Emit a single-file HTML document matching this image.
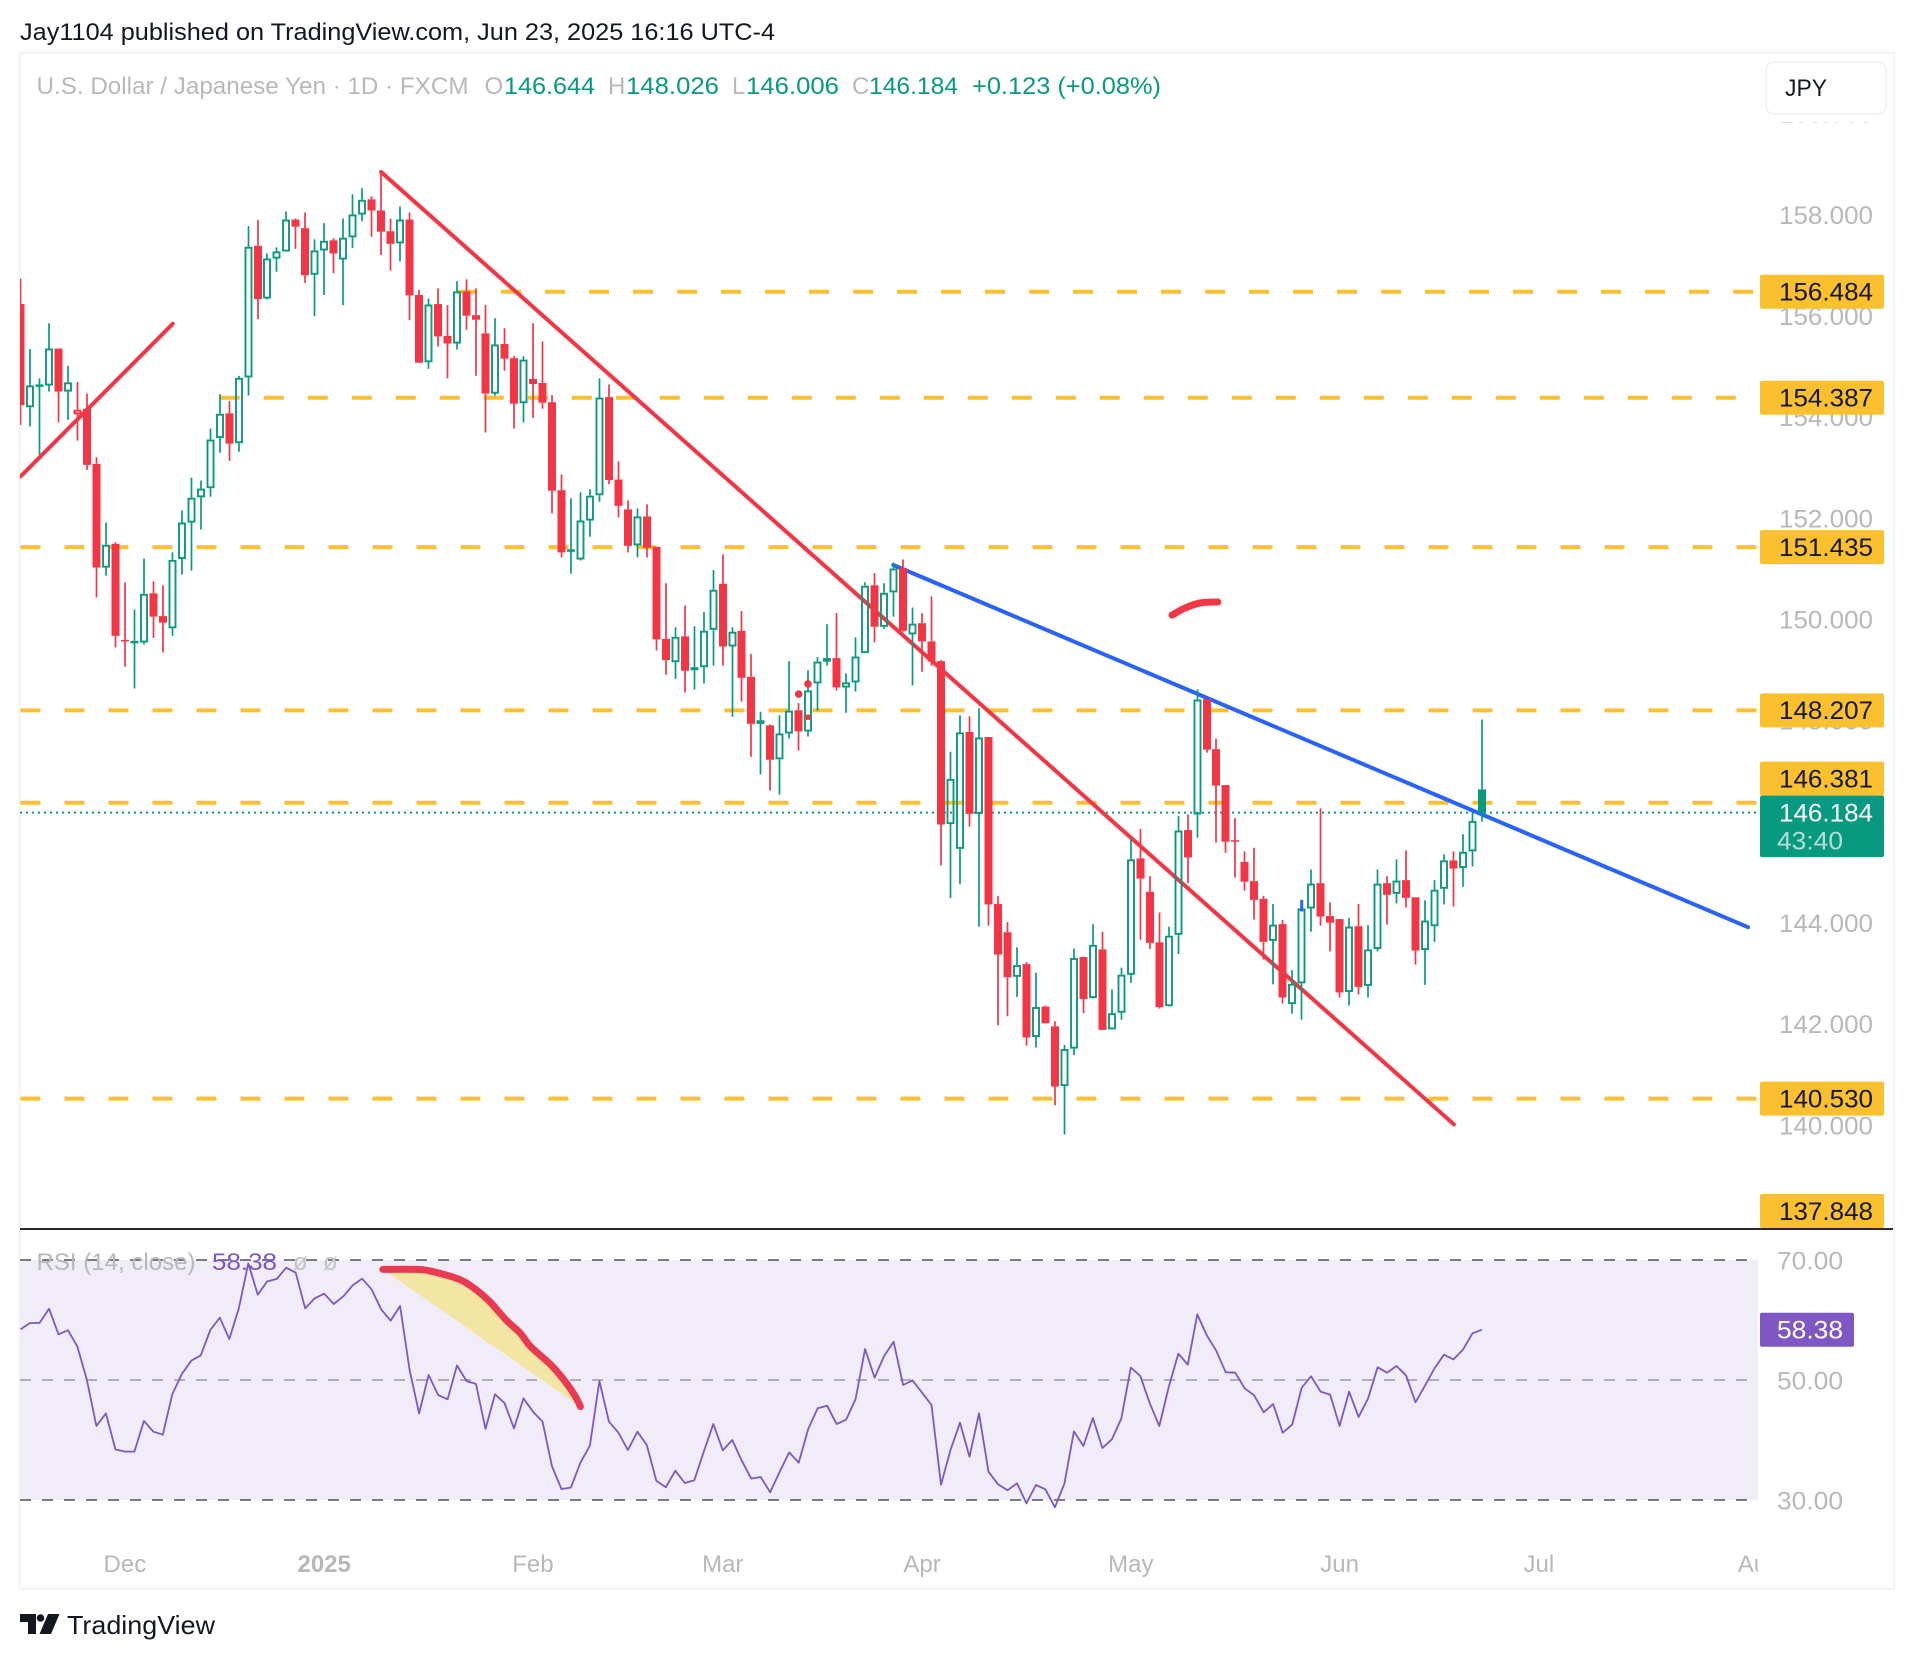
<!DOCTYPE html>
<html lang="en">
<head>
<meta charset="utf-8">
<title>USD/JPY chart</title>
<style>
html,body{margin:0;padding:0;background:#fff;}
svg{display:block;font-family:"Liberation Sans",sans-serif;}
</style>
</head>
<body>
<svg id="chart" xmlns="http://www.w3.org/2000/svg" width="1914" height="1660" viewBox="0 0 1914 1660">
  <defs>
    <clipPath id="paneClip"><rect x="20" y="54" width="1738" height="1174"/></clipPath>
    <clipPath id="timeClip"><rect x="20" y="1530" width="1738" height="58"/></clipPath>
  </defs>
  <rect x="0" y="0" width="1914" height="1660" fill="#ffffff"/>
  <text x="20" y="40" font-size="24" fill="#131722" textLength="755" lengthAdjust="spacingAndGlyphs">Jay1104 published on TradingView.com, Jun 23, 2025 16:16 UTC-4</text>
  <rect x="19.5" y="53" width="1874.5" height="1536" fill="none" stroke="#f3f3f3" stroke-width="2"/>
  <rect x="20" y="1260" width="1738" height="240" fill="#f0ecf8"/>
  <g id="priceAxis"></g>
  <rect x="1760" y="56" width="132" height="66" fill="#ffffff"/>
  <g id="pane" clip-path="url(#paneClip)">
    <g id="levels"></g>
    <g id="trends"></g>
    <g id="candles"></g>
    <g id="marks"></g>
  </g>
  <g id="rsiPane"></g>
  <rect x="20" y="1228" width="1873" height="2" fill="#2a2a2e"/>
  <g id="levelLabels"></g>
  <g id="rsiAxis"></g>
  <g id="timeAxis" clip-path="url(#timeClip)"></g>

  <g font-size="24">
    <text x="36.5" y="94" fill="#b8b8b8" textLength="432" lengthAdjust="spacingAndGlyphs">U.S. Dollar / Japanese Yen · 1D · FXCM</text>
    <text x="484.5" y="94" fill="#b8b8b8">O</text>
    <text x="504" y="94" fill="#089981" textLength="91" lengthAdjust="spacingAndGlyphs">146.644</text>
    <text x="608" y="94" fill="#b8b8b8">H</text>
    <text x="626" y="94" fill="#089981" textLength="93" lengthAdjust="spacingAndGlyphs">148.026</text>
    <text x="732" y="94" fill="#b8b8b8">L</text>
    <text x="746" y="94" fill="#089981" textLength="93" lengthAdjust="spacingAndGlyphs">146.006</text>
    <text x="852" y="94" fill="#b8b8b8">C</text>
    <text x="869" y="94" fill="#089981" textLength="89" lengthAdjust="spacingAndGlyphs">146.184</text>
    <text x="972" y="94" fill="#089981" textLength="189" lengthAdjust="spacingAndGlyphs">+0.123 (+0.08%)</text>
  </g>

  <g>
    <rect x="1766" y="62" width="120" height="52" rx="8" fill="#ffffff" stroke="#f0f0f0" stroke-width="1.5"/>
    <text x="1785" y="96" font-size="24" fill="#131722" textLength="42" lengthAdjust="spacingAndGlyphs">JPY</text>
  </g>

  <g font-size="24">
    <text x="36.5" y="1270" fill="#b8b8b8" textLength="159" lengthAdjust="spacingAndGlyphs">RSI (14, close)</text>
    <text x="212" y="1270" fill="#7e57c2" textLength="65" lengthAdjust="spacingAndGlyphs">58.38</text>
    <text x="293" y="1270" fill="#c4c4c4">ø</text>
    <text x="323" y="1270" fill="#c4c4c4">ø</text>
  </g>

  <g>
    <path d="M20 1614H36V1634H28V1622H20Z" fill="#131722"/>
    <circle cx="40.5" cy="1618" r="3.8" fill="#131722"/>
    <path d="M48 1614H59.5L51 1634H39.5Z" fill="#131722"/>
    <text x="67" y="1634" font-size="26" fill="#131722" textLength="148" lengthAdjust="spacingAndGlyphs">TradingView</text>
  </g>
</svg>
<script>
/* ---- chart data ---- */
const opens = [
156.24,154.20,154.61,154.63,155.36,154.51,154.15,154.17,153.08,151.03,
151.50,149.60,149.54,149.55,150.52,150.07,149.83,151.20,151.92,152.42,
152.60,153.59,154.08,153.49,154.79,157.39,156.35,157.14,157.28,157.91,
157.74,156.82,157.30,157.50,157.12,157.56,158.01,158.31,158.09,157.68,
157.44,157.91,156.42,155.09,156.24,155.61,155.46,156.49,156.02,155.66,
154.47,155.45,155.17,154.28,154.76,154.68,154.30,152.56,151.36,151.19,
151.96,152.46,154.40,152.77,152.18,151.47,152.04,151.44,149.62,149.16,
149.67,149.00,149.06,149.80,150.71,149.47,149.78,148.87,147.94,147.91,
147.24,147.75,148.21,147.79,148.74,149.17,149.24,148.66,148.76,149.34,
150.68,149.86,150.54,151.02,149.71,149.93,149.57,149.18,145.96,145.47,
147.78,146.16,147.68,144.38,143.82,142.94,143.19,141.75,142.35,141.96,
140.78,141.52,143.33,142.52,143.48,141.90,142.23,142.98,145.28,144.62,
143.62,142.36,143.77,145.84,146.15,148.43,147.44,146.73,145.64,145.21,
144.83,144.48,143.65,143.98,142.40,142.81,144.29,144.79,144.14,144.08,
142.64,143.94,142.76,143.49,144.79,144.58,144.85,144.51,143.47,143.94,
144.68,145.24,145.09,145.42,146.644];
const highs = [
156.74,155.35,154.77,155.86,155.36,155.02,154.70,154.47,153.21,151.92,
151.53,150.74,150.20,151.21,150.76,150.68,151.33,152.16,152.81,152.75,
153.78,154.46,154.32,154.82,157.78,157.90,157.24,157.36,158.07,157.93,
158.05,157.52,157.84,157.54,157.93,158.41,158.53,158.37,158.85,157.93,
158.17,158.05,156.52,156.35,156.55,156.22,156.69,156.73,156.55,156.22,
155.96,155.76,155.21,155.21,155.86,155.50,154.44,152.87,152.40,152.52,
152.58,154.77,154.65,153.13,152.36,152.20,152.28,151.44,150.72,149.85,
150.28,149.87,150.15,150.98,151.29,149.85,150.17,149.32,148.18,147.93,
148.11,149.18,148.35,149.00,149.26,149.91,150.13,148.94,149.65,150.74,
150.92,150.72,151.13,151.19,150.24,150.13,150.46,149.20,147.39,148.11,
148.09,148.25,147.68,144.54,144.02,143.52,143.23,143.02,142.37,142.06,
141.59,143.50,143.34,143.98,143.83,142.69,143.12,145.68,145.86,144.93,
144.21,143.93,146.12,146.15,148.62,148.43,147.65,146.73,146.08,145.42,
145.49,144.54,144.38,144.06,143.07,144.46,145.06,146.27,144.41,144.08,
144.10,144.38,143.96,145.06,144.93,145.26,145.44,144.51,144.45,144.85,
145.36,145.42,145.76,146.19,148.026];
const lows = [
153.85,153.82,153.26,154.51,153.90,153.95,153.54,152.96,150.44,150.87,
149.45,149.07,148.64,149.51,149.64,149.35,149.68,150.89,150.97,151.78,
152.43,153.30,153.14,153.32,154.43,155.94,156.33,156.88,157.28,157.33,
156.66,156.00,156.42,156.85,156.22,157.35,157.88,157.57,157.21,156.90,
157.08,155.92,155.08,154.96,155.40,154.77,155.34,155.73,154.82,153.70,
154.43,154.92,153.78,153.90,153.99,154.17,152.10,151.23,150.91,151.17,
151.64,152.33,152.68,152.02,151.33,151.23,151.23,149.39,148.91,148.83,
148.56,148.62,148.74,149.09,149.09,148.08,148.38,147.29,146.94,146.62,
146.54,147.65,147.41,147.69,148.20,149.09,148.60,148.16,148.58,149.34,
149.55,149.82,150.06,149.76,148.70,148.97,149.09,145.14,144.50,144.77,
145.91,143.93,143.95,141.98,142.16,142.54,141.58,141.54,142.02,140.40,
139.82,141.39,142.22,142.51,141.89,141.90,142.09,142.82,143.67,143.49,
142.31,142.35,143.39,144.79,145.69,147.37,145.59,145.39,144.90,144.64,
144.07,143.28,142.79,142.41,142.21,142.09,143.83,143.95,143.44,142.53,
142.37,142.59,142.53,143.44,143.97,144.39,144.31,143.18,142.78,143.63,
144.37,144.33,144.72,145.12,146.006];
const closes = [
154.24,154.63,154.65,155.36,154.51,154.69,154.06,153.06,151.03,151.48,
149.68,149.57,149.58,150.51,150.06,149.94,151.18,151.92,152.41,152.59,
153.56,154.07,153.48,154.78,157.37,156.34,157.14,157.28,157.91,157.77,
156.81,157.30,157.49,157.24,157.55,158.01,158.30,158.09,157.67,157.43,
157.91,156.41,155.08,156.23,155.60,155.46,156.49,156.01,155.93,154.47,
155.44,155.16,154.27,155.14,154.66,154.29,152.55,151.33,151.39,151.96,
152.45,154.39,152.76,152.25,151.46,152.04,151.42,149.61,149.20,149.66,
148.99,149.06,149.78,150.59,149.47,149.76,148.85,147.94,148.01,147.23,
147.75,148.20,147.79,148.60,149.17,149.24,148.66,148.76,149.27,150.67,
149.86,150.53,151.01,149.78,149.92,149.57,149.17,145.95,146.85,147.77,
146.16,147.67,144.37,143.38,142.93,143.17,141.74,142.34,142.02,140.77,
141.51,143.31,142.50,143.57,141.89,142.22,142.98,145.26,144.88,143.61,
142.34,143.75,145.83,145.30,148.42,147.43,146.72,145.61,145.62,144.82,
144.46,143.63,143.97,142.53,142.80,144.29,144.78,144.13,144.01,142.63,
143.93,142.74,143.48,144.78,144.56,144.84,144.50,143.46,144.05,144.66,
145.24,145.08,145.41,146.02,146.184];
const rsiValues = [
58.44,59.5,59.5,61.89,57.61,58.28,55.56,50,42.33,44.44,
38.44,38.06,38.06,43.17,41.39,40.89,47.61,51,53.22,54.11,
58.33,60.39,56.83,61.94,69.44,64.22,66.44,66.83,68.72,67.89,
61.94,63.61,64.39,62.67,63.94,65.78,66.89,65.11,61.78,59.89,
62.33,51.67,44.44,50.83,47.5,46.78,52.44,49.83,49.33,41.83,
47.61,46.17,41.94,46.94,44.72,43.06,35.67,31.83,32.06,36.22,
39.06,49.83,43.06,41.22,38.33,41.39,39.17,33.22,32.11,34.89,
32.83,33.28,38.06,42.67,38.28,40,36.56,33.56,33.83,31.28,
34.72,37.94,36.22,41.83,45.28,45.72,42.67,43.39,46.83,55.17,
50.39,54,56.39,49.17,49.94,47.89,45.83,32.56,38.33,42.89,
37.22,44.44,34.72,32.61,31.61,32.78,29.44,32.5,31.78,28.78,
32.72,41.44,39,43.67,38.67,40.11,43.56,52.06,50.67,46.11,
42.33,48.89,54.39,52.56,60.94,57.44,54.89,51.28,51.22,48.61,
47.44,44.61,46,41.22,42.56,48.72,50.61,48.06,47.56,42.33,
48.06,43.83,46.94,52.11,51.22,52.33,50.78,46.28,49.06,51.94,
54.22,53.44,55.06,57.78,58.38];

/* bars the hollow-candle style paints differently from plain open/close */
const filledGreenBars = [154];
const hollowRedBars = [6];

const priceTicks = [160,158,156,154,152,150,148,146,144,142,140];
const rsiTicks = [70,50,30];
const rsiBands = [70,50,30];
const levelPrices = [156.484,154.387,151.435,148.207,146.381,140.53];
const levelStartBars = [46,21,0,0,0,0];
const labelPrices = [156.484,154.387,151.435,148.207,146.381,140.53,137.848];
const currentPrice = 146.184;
const countdownText = "43:40";
const rsiCurrent = 58.38;
const monthLabels = ["Dec","2025","Feb","Mar","Apr","May","Jun","Jul","Aug"];
const monthBars = [11,32,54,74,95,117,139,160,183.2];

/* drawings anchored in bar index / price */
const trendRedLeftBars = [0,16.04];
const trendRedLeftPrices = [152.83,155.85];
const trendRedMainBars = [38,151.04];
const trendRedMainPrices = [158.85,140.02];
const trendBlueBars = [91.97,182.03];
const trendBluePrices = [151.08,143.92];
const scribbleBars = [121.34,122.71,124.29,126.18];
const scribblePrices = [150.09,150.23,150.33,150.35];
const dotBars = [82,82.98,82.98];
const dotPrices = [148.53,148.73,148.07];
const blueTickBars = [135,135];
const blueTickPrices = [144.46,144.23];
const rsiBrushBars = [38.19,41.71,43.43,46.23,47.95,49.45,51.17,52.68,53.75,55.9,57.41,58.48,59.0];
const rsiBrushValues = [68.44,68.44,68.06,66.78,65.11,63.06,60,57.78,55.56,52.5,49.72,47.22,45.56];

/* ---- axis functions ---- */
function xBar(i){ return 20.5 + 9.49 * i; }
function yPrice(p){ return 291.7 + (156.484 - p) * 50.58; }
function yRsi(v){ return 1380 - (v - 50) * 6; }

const NS = "http://www.w3.org/2000/svg";
const GREEN = "#089981", RED = "#f23645", GOLD = "#fbc02d", GRAY = "#b8b8b8", PURPLE = "#7e57c2";
function make(tag, parent, geom){
  const el = document.createElementNS(NS, tag);
  for (const k in geom) el.setAttribute(k, geom[k]);
  parent.appendChild(el);
  return el;
}
function byId(id){ return document.getElementById(id); }
function pointsOf(bars, vals, yFn){
  return bars.map(function(b, i){ return xBar(b).toFixed(1) + "," + yFn(vals[i]).toFixed(1); }).join(" ");
}
function smoothPath(bars, vals, yFn){
  const p = bars.map(function(b, i){ return [xBar(b), yFn(vals[i])]; });
  let d = "M" + p[0][0].toFixed(1) + " " + p[0][1].toFixed(1);
  for (let i = 0; i < p.length - 1; i++) {
    const a = p[Math.max(i - 1, 0)], b = p[i], c = p[i + 1], e = p[Math.min(i + 2, p.length - 1)];
    d += "C" + (b[0] + (c[0] - a[0]) / 6).toFixed(1) + " " + (b[1] + (c[1] - a[1]) / 6).toFixed(1) + " " +
         (c[0] - (e[0] - b[0]) / 6).toFixed(1) + " " + (c[1] - (e[1] - b[1]) / 6).toFixed(1) + " " +
         c[0].toFixed(1) + " " + c[1].toFixed(1);
  }
  return d;
}

/* price axis ticks */
priceTicks.forEach(function(p){
  const t = make("text", byId("priceAxis"), {x:1779, y:yPrice(p)+8.8, "font-size":25, fill:GRAY, textLength:94, lengthAdjust:"spacingAndGlyphs"});
  
  
  t.textContent = p.toFixed(3);
});

/* horizontal levels */
levelPrices.forEach(function(p, i){
  const l = make("line", byId("levels"), {x1:xBar(levelStartBars[i]), x2:1757, y1:yPrice(p), y2:yPrice(p), stroke:GOLD, "stroke-width":4, "stroke-dasharray":"20 24"});
  
  
});
const curLine = make("line", byId("levels"), {x1:20, x2:1757, y1:yPrice(currentPrice), y2:yPrice(currentPrice), stroke:GREEN, "stroke-width":2, "stroke-dasharray":"2 4"});



/* trend lines */
function trend(bars, prices, color, width){
  const el = make("polyline", byId("trends"), {points:pointsOf(bars, prices, yPrice), fill:"none", stroke:color, "stroke-width":width, "stroke-linecap":"round", "stroke-linejoin":"round"});
  return el;
}
const t1 = trend(trendRedLeftBars, trendRedLeftPrices, RED, 4);


const t2 = trend(trendRedMainBars, trendRedMainPrices, RED, 4);


const t3 = trend(trendBlueBars, trendBluePrices, "#2962ff", 4);


const t4 = make("path", byId("trends"), {d:smoothPath(scribbleBars, scribblePrices, yPrice), fill:"none", stroke:RED, "stroke-width":7, "stroke-linecap":"round", "stroke-linejoin":"round"});



/* candles */
opens.forEach(function(o, i){
  const c = closes[i], h = highs[i], lo = lows[i];
  const forcedGreen = filledGreenBars.indexOf(i) >= 0;
  const forcedHollowRed = hollowRedBars.indexOf(i) >= 0;
  const up = forcedGreen || (c >= o && !forcedHollowRed);
  const filled = forcedGreen || (!up && !forcedHollowRed);
  const color = up ? GREEN : RED;
  const x = Math.round(xBar(i) * 2) / 2;
  const top = yPrice(Math.max(o, c)), bot = yPrice(Math.min(o, c));
  const g = make("g", byId("candles"), {});
  
  
  const w1 = make("line", g, {x1:x, x2:x, y1:yPrice(h), y2:top, stroke:color, "stroke-width":1.7});
  
  
  const w2 = make("line", g, {x1:x, x2:x, y1:bot, y2:yPrice(lo), stroke:color, "stroke-width":1.7});
  
  
  let body;
  if (filled) {
    body = make("rect", g, {x:x-4, y:top, width:8, height:Math.max(bot-top, 1.5), fill:color});
  } else {
    body = make("rect", g, {x:x-3, y:top+0.9, width:6, height:Math.max(bot-top-1.8, 0.6), fill:"none", stroke:color, "stroke-width":1.9});
  }
  
  
});

/* small annotation marks */
dotBars.forEach(function(b, i){
  const d = make("circle", byId("marks"), {cx:xBar(b), cy:yPrice(dotPrices[i]), r:i === 2 ? 3 : 3.8, fill:RED});
  
  
});
const blueTick = make("polyline", byId("marks"), {points:pointsOf(blueTickBars, blueTickPrices, yPrice), fill:"none", stroke:"#2962ff", "stroke-width":3});



/* level labels */
labelPrices.forEach(function(p){
  let cy = Math.min(yPrice(p), 1211);
  if (p > currentPrice && cy + 17 > yPrice(currentPrice) - 17) cy = yPrice(currentPrice) - 34;
  const r = make("rect", byId("levelLabels"), {x:1760, y:cy-17, width:124, height:34, rx:2, fill:GOLD});
  
  
  const t = make("text", byId("levelLabels"), {x:1779, y:cy+8.8, "font-size":25, fill:"#131722", textLength:94, lengthAdjust:"spacingAndGlyphs"});
  
  
  t.textContent = p.toFixed(3);
});
const curY = yPrice(currentPrice);
const curBox = make("rect", byId("levelLabels"), {x:1760, y:curY-17, width:124, height:61.5, rx:2, fill:GREEN});


const curText = make("text", byId("levelLabels"), {x:1779, y:curY+8.8, "font-size":25, fill:"#ffffff", textLength:94, lengthAdjust:"spacingAndGlyphs"});


curText.textContent = currentPrice.toFixed(3);
const cdText = make("text", byId("levelLabels"), {x:1777, y:curY+36.8, "font-size":25, fill:"#b5ddd5", textLength:66, lengthAdjust:"spacingAndGlyphs"});


cdText.textContent = countdownText;

/* RSI pane */
rsiBands.forEach(function(v){
  const mid = v === 50;
  const b = make("line", byId("rsiPane"), {x1:20, x2:1747, y1:yRsi(v), y2:yRsi(v), stroke:mid ? "#b0adba" : "#787b86", "stroke-width":2, "stroke-dasharray":"11 11"});
  
  
});
const rsiLine = make("polyline", byId("rsiPane"), {points:rsiValues.map(function(v, i){ return xBar(i).toFixed(1) + "," + yRsi(v).toFixed(1); }).join(" "), fill:"none", stroke:PURPLE, "stroke-width":1.8, "stroke-linejoin":"round"});


const rsiFill = make("path", byId("rsiPane"), {d:smoothPath(rsiBrushBars, rsiBrushValues, yRsi) + "Z", fill:"#f3e5a3"});


const rsiBrush = make("path", byId("rsiPane"), {d:smoothPath(rsiBrushBars, rsiBrushValues, yRsi), fill:"none", stroke:"#ea3a52", "stroke-width":7, "stroke-linecap":"round", "stroke-linejoin":"round"});



/* RSI axis */
rsiTicks.forEach(function(v){
  const t = make("text", byId("rsiAxis"), {x:1777, y:yRsi(v)+9.5, "font-size":25, fill:GRAY, textLength:66, lengthAdjust:"spacingAndGlyphs"});
  
  
  t.textContent = v.toFixed(2);
});
const rsiBox = make("rect", byId("rsiAxis"), {x:1760, y:yRsi(rsiCurrent)-17, width:94, height:34, rx:2, fill:PURPLE});


const rsiTxt = make("text", byId("rsiAxis"), {x:1777, y:yRsi(rsiCurrent)+8.8, "font-size":25, fill:"#ffffff", textLength:66, lengthAdjust:"spacingAndGlyphs"});


rsiTxt.textContent = rsiCurrent.toFixed(2);

/* time axis */
monthLabels.forEach(function(m, i){
  const t = make("text", byId("timeAxis"), {x:xBar(monthBars[i]), y:1572, "font-size":24, "text-anchor":"middle", fill:GRAY});
  if (m === "2025") t.setAttribute("font-weight", "bold");
  
  
  t.textContent = m;
});
</script>
</body>
</html>
